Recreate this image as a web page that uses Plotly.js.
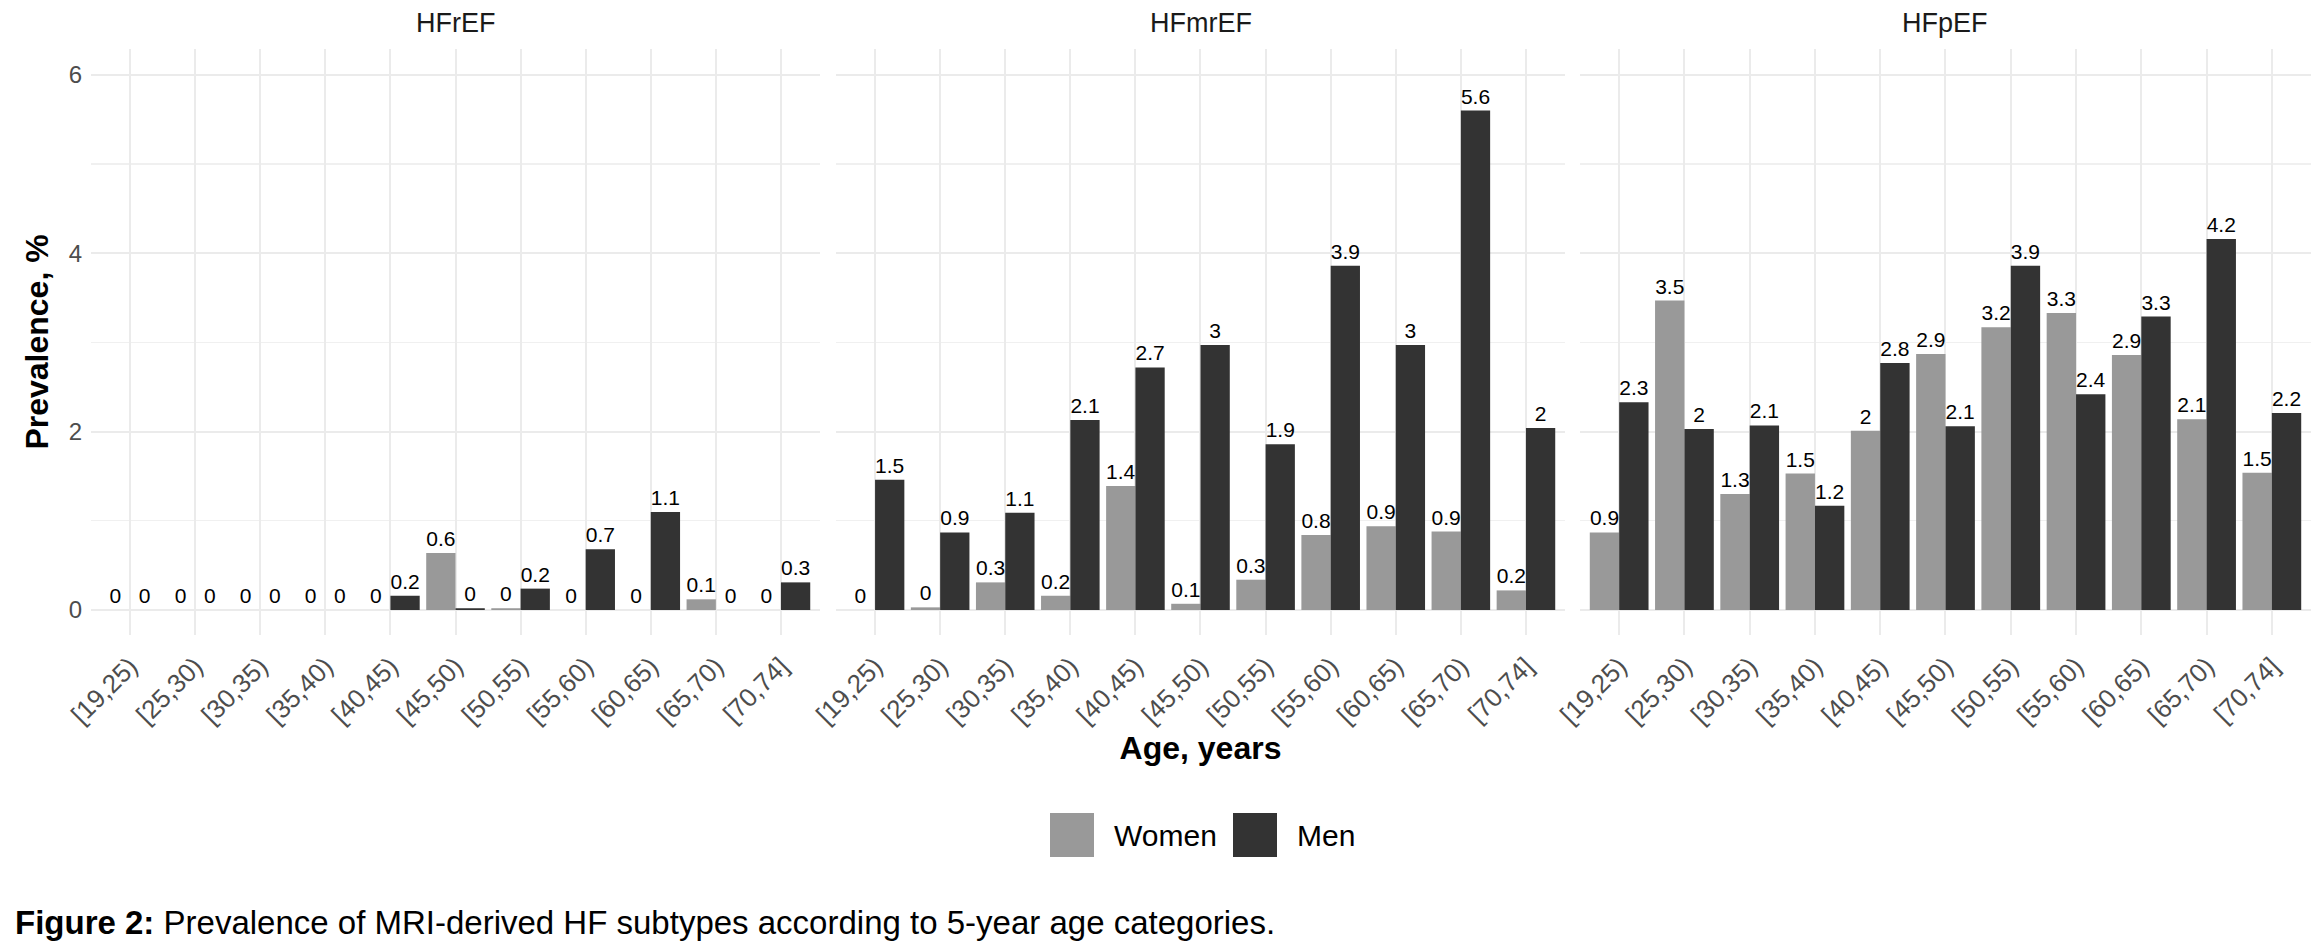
<!DOCTYPE html>
<html>
<head>
<meta charset="utf-8">
<script src="https://cdn.plot.ly/plotly-3.0.1.min.js"></script>
<style>html,body{margin:0;padding:0;background:#fff;}#chart{width:2317px;height:946px;}</style>
</head>
<body>
<div id="chart"></div>
<script>
// ---- data ----
var ageGroups = ["[19,25)", "[25,30)", "[30,35)", "[35,40)", "[40,45)", "[45,50)", "[50,55)", "[55,60)", "[60,65)", "[65,70)", "[70,74]"];
var subtypes = ["HFrEF", "HFmrEF", "HFpEF"];
var sexes = ["Women", "Men"];

var hfrefWomen  = [0, 0, 0, 0, 0, 0.64, 0.02, 0, 0, 0.12, 0];
var hfrefMen    = [0, 0, 0, 0, 0.16, 0.02, 0.24, 0.68, 1.10, 0, 0.31];
var hfmrefWomen = [0, 0.03, 0.31, 0.16, 1.39, 0.07, 0.34, 0.84, 0.94, 0.88, 0.22];
var hfmrefMen   = [1.46, 0.87, 1.09, 2.13, 2.72, 2.97, 1.86, 3.86, 2.97, 5.60, 2.04];
var hfpefWomen  = [0.87, 3.47, 1.30, 1.53, 2.01, 2.87, 3.17, 3.33, 2.86, 2.14, 1.54];
var hfpefMen    = [2.33, 2.03, 2.07, 1.17, 2.77, 2.06, 3.86, 2.42, 3.29, 4.16, 2.21];

var yTickVals = [0, 2, 4, 6];
var yTickText = ["0", "2", "4", "6"];

var seriesBySubtype = [
  [hfrefWomen, hfrefMen],
  [hfmrefWomen, hfmrefMen],
  [hfpefWomen, hfpefMen]
];
var sexColors = {"Women": "#999999", "Men": "#333333"};

function lab(v) { return String(Number(v.toFixed(1))); }

var FONT = "Liberation Sans, Arial, Helvetica, sans-serif";
var W = 2317, H = 946;
var mL = 91, mR = 6, mT = 49, mB = 311;
var pw = W - mL - mR, ph = H - mT - mB;
function px2x(p) { return (p - mL) / pw; }
function px2y(p) { return (H - mB - p) / ph; }

var domains = [[0, 0.32838], [0.33559, 0.66396], [0.67072, 1]];

var traces = [];
subtypes.forEach(function (st, i) {
  var ax = i === 0 ? "" : String(i + 1);
  sexes.forEach(function (sx, j) {
    var vals = seriesBySubtype[i][j];
    traces.push({
      type: "bar",
      name: sx,
      x: ageGroups,
      y: vals,
      text: vals.map(lab),
      textposition: "outside",
      cliponaxis: false,
      constraintext: "none",
      textfont: {family: FONT, size: 21, color: "#000000"},
      marker: {color: sexColors[sx], line: {width: 0}},
      xaxis: "x" + ax,
      yaxis: "y" + ax,
      showlegend: false,
      hoverinfo: "x+y+name"
    });
  });
});

var layout = {
  width: W, height: H,
  margin: {l: mL, r: mR, t: mT, b: mB, pad: 0},
  paper_bgcolor: "#ffffff",
  plot_bgcolor: "#ffffff",
  barmode: "group",
  bargap: 0.1,
  bargroupgap: 0,
  font: {family: FONT, color: "#000000"},
  annotations: [],
  shapes: []
};

function xAxisDef(i) {
  return {
    type: "category",
    domain: domains[i],
    anchor: i === 0 ? "y" : "y" + (i + 1),
    range: [-0.6, 10.6],
    showgrid: true, gridcolor: "#ebebeb", gridwidth: 2,
    zeroline: false, showline: false, ticks: "",
    tickangle: -45,
    ticklabelstandoff: 10,
    tickfont: {family: FONT, size: 26, color: "#4d4d4d"},
    automargin: false
  };
}
function yAxisDef(i) {
  return {
    domain: [0, 1],
    anchor: i === 0 ? "x" : "x" + (i + 1),
    range: [-0.28, 6.29],
    tickmode: "array", tickvals: yTickVals, ticktext: yTickText,
    showticklabels: i === 0,
    showgrid: true, gridcolor: "#ebebeb", gridwidth: 2,
    minor: {dtick: 1, tick0: 0, showgrid: true, gridcolor: "#f0f0f0", gridwidth: 1.2, ticks: ""},
    zeroline: false, showline: false, ticks: "",
    ticklabelstandoff: 8,
    tickfont: {family: FONT, size: 24, color: "#4d4d4d"},
    automargin: false
  };
}
for (var i = 0; i < 3; i++) {
  var k = i === 0 ? "" : String(i + 1);
  layout["xaxis" + k] = xAxisDef(i);
  layout["yaxis" + k] = yAxisDef(i);
}
layout.yaxis.title = {text: "<b>Prevalence, %</b>", font: {family: FONT, size: 32, color: "#000000"}, standoff: 10};
layout.xaxis2.title = {text: "<b>Age, years</b>", font: {family: FONT, size: 32, color: "#000000"}, standoff: 4};

// facet strip titles
subtypes.forEach(function (st, i) {
  layout.annotations.push({
    text: st, xref: "paper", yref: "paper",
    x: (domains[i][0] + domains[i][1]) / 2, y: px2y(23),
    xanchor: "center", yanchor: "middle", showarrow: false,
    font: {family: FONT, size: 27, color: "#1a1a1a"}
  });
});

// legend (drawn to match large ggplot keys)
var legendItems = [
  {name: sexes[0], x0: 1050, textX: 1112},
  {name: sexes[1], x0: 1233, textX: 1295}
];
legendItems.forEach(function (it) {
  layout.shapes.push({
    type: "rect", xref: "paper", yref: "paper",
    x0: px2x(it.x0), x1: px2x(it.x0 + 44), y0: px2y(813), y1: px2y(857),
    fillcolor: sexColors[it.name], line: {width: 0}
  });
  layout.annotations.push({
    text: it.name, xref: "paper", yref: "paper",
    x: px2x(it.textX), y: px2y(836), xanchor: "left", yanchor: "middle",
    showarrow: false, font: {family: FONT, size: 30, color: "#000000"}
  });
});

// caption
layout.annotations.push({
  text: "<b>Figure 2:</b> Prevalence of MRI-derived HF subtypes according to 5-year age categories.",
  xref: "paper", yref: "paper", x: px2x(13), y: px2y(922),
  xanchor: "left", yanchor: "middle", showarrow: false,
  font: {family: FONT, size: 33, color: "#000000"}
});

Plotly.newPlot("chart", traces, layout, {displayModeBar: false, staticPlot: true});
</script>
</body>
</html>
